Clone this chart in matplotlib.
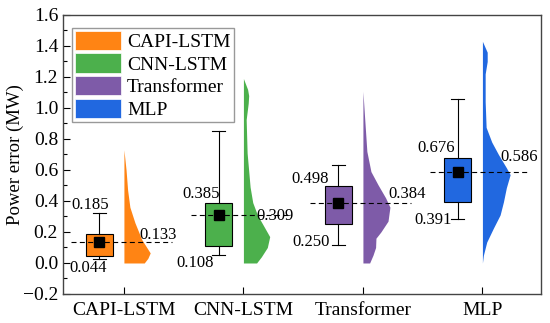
import numpy as np
import matplotlib
matplotlib.use("Agg")
import matplotlib.pyplot as plt
from matplotlib.patches import Patch
from matplotlib.ticker import MultipleLocator

plt.rcParams['font.family'] = ['Liberation Serif', 'DejaVu Serif']

models = ['CAPI-LSTM', 'CNN-LSTM', 'Transformer', 'MLP']
colors = ['#ff8414', '#4cb04c', '#7e5ba8', '#2168e0']

# box statistics (MW)
q1 = [0.044, 0.108, 0.250, 0.391]
q3 = [0.185, 0.385, 0.498, 0.676]
means = [0.133, 0.309, 0.384, 0.586]
whisk_lo = [0.026, 0.050, 0.115, 0.285]
whisk_hi = [0.320, 0.850, 0.630, 1.060]

# half-violin outlines: (level, half-width)
violin_y = [
    [0.00, 0.03, 0.065, 0.15, 0.26, 0.36, 0.47, 0.60, 0.73],
    [0.00, 0.04, 0.10, 0.17, 0.23, 0.31, 0.39, 0.49, 0.71, 0.925, 1.03, 1.08, 1.12, 1.19],
    [0.00, 0.05, 0.10, 0.16, 0.20, 0.27, 0.36, 0.42, 0.505, 0.59, 0.72, 0.94, 1.107],
    [0.00, 0.05, 0.135, 0.225, 0.31, 0.395, 0.485, 0.57, 0.615, 0.70, 0.78, 0.875, 1.04, 1.22, 1.30, 1.36, 1.43],
]
violin_w = [
    [0.17, 0.20, 0.22, 0.15, 0.092, 0.050, 0.031, 0.018, 0.0],
    [0.11, 0.15, 0.20, 0.22, 0.176, 0.117, 0.078, 0.056, 0.031, 0.023, 0.040, 0.044, 0.035, 0.0],
    [0.056, 0.084, 0.106, 0.109, 0.15, 0.21, 0.226, 0.19, 0.126, 0.067, 0.033, 0.014, 0.0],
    [0.0, 0.008, 0.036, 0.092, 0.148, 0.176, 0.20, 0.232, 0.20, 0.134, 0.078, 0.031, 0.023, 0.023, 0.040, 0.040, 0.0],
]

fig = plt.figure(figsize=(5.5, 3.23), dpi=100)
ax = fig.add_axes([0.1145, 0.0898, 0.8691, 0.8638])

pos = np.arange(1, len(models) + 1)
box_off = 0.205
box_w = 0.225

for i, p in enumerate(pos):
    c = colors[i]
    # half violin on the right of the tick
    ax.fill_betweenx(violin_y[i], p, p + np.array(violin_w[i]), color=c, lw=0, zorder=2)
    # box
    bx = p - box_off
    ax.add_patch(plt.Rectangle((bx - box_w / 2, q1[i]), box_w, q3[i] - q1[i],
                               facecolor=c, edgecolor='black', lw=0.8, zorder=3))
    ax.plot([bx, bx], [q3[i], whisk_hi[i]], color='black', lw=0.8, zorder=3)
    ax.plot([bx, bx], [whisk_lo[i], q1[i]], color='black', lw=0.8, zorder=3)
    ax.plot([bx - 0.055, bx + 0.055], [whisk_hi[i]] * 2, color='black', lw=0.8, zorder=3)
    ax.plot([bx - 0.055, bx + 0.055], [whisk_lo[i]] * 2, color='black', lw=0.8, zorder=3)
    # mean line + marker
    ax.plot([p - 0.44, p + 0.40], [means[i]] * 2, color='black', lw=0.8, ls=(0, (4.5, 3)), zorder=4)
    ax.plot(bx, means[i], marker='s', color='black', ms=7.5, zorder=5)

# value labels: (x, y) centres in data units
lab_q3 = [(0.715, 0.376), (1.644, 0.448), (2.556, 0.545), (3.611, 0.745)]
lab_q1 = [(0.699, -0.032), (1.594, 0.000), (2.565, 0.133), (3.586, 0.279)]
lab_mean = [(1.285, 0.182), (2.264, 0.302), (3.368, 0.448), (4.31, 0.687)]
for i in range(len(models)):
    for (x, y), v in ((lab_q3[i], q3[i]), (lab_q1[i], q1[i]), (lab_mean[i], means[i])):
        ax.text(x, y, f'{v:.3f}', ha='center', va='center', fontsize=12, zorder=6)

ax.set_xlim(0.49, 4.49)
ax.set_ylim(-0.2, 1.6)
ax.set_xticks(pos)
ax.set_xticklabels(models)
ax.yaxis.set_major_locator(MultipleLocator(0.2))
ax.yaxis.set_minor_locator(MultipleLocator(0.1))
ax.yaxis.set_major_formatter(matplotlib.ticker.FuncFormatter(lambda v, _: f'{v:.1f}'.replace('-', '\u2212')))
ax.tick_params(axis='both', which='major', direction='in', length=5, width=0.8, labelsize=14)
ax.tick_params(axis='y', which='minor', direction='in', length=3, width=0.8)
ax.tick_params(axis='x', pad=6)
ax.set_ylabel('Power error (MW)', fontsize=13.5)
ax.yaxis.set_label_coords(-0.082, 0.5)
for s in ax.spines.values():
    s.set_color('#444444')
    s.set_linewidth(1.0)

handles = [Patch(facecolor=c, edgecolor='white', lw=0.5) for c in colors]
ax.legend(handles, models, loc='upper left', bbox_to_anchor=(0.0, 0.985), fontsize=14,
          handlelength=2.4, handleheight=1.15, labelspacing=0.12, handletextpad=0.3,
          borderpad=0.15, borderaxespad=0.45, frameon=True, fancybox=False,
          edgecolor='#999999', framealpha=1)

fig.savefig('out.png', dpi=100)
